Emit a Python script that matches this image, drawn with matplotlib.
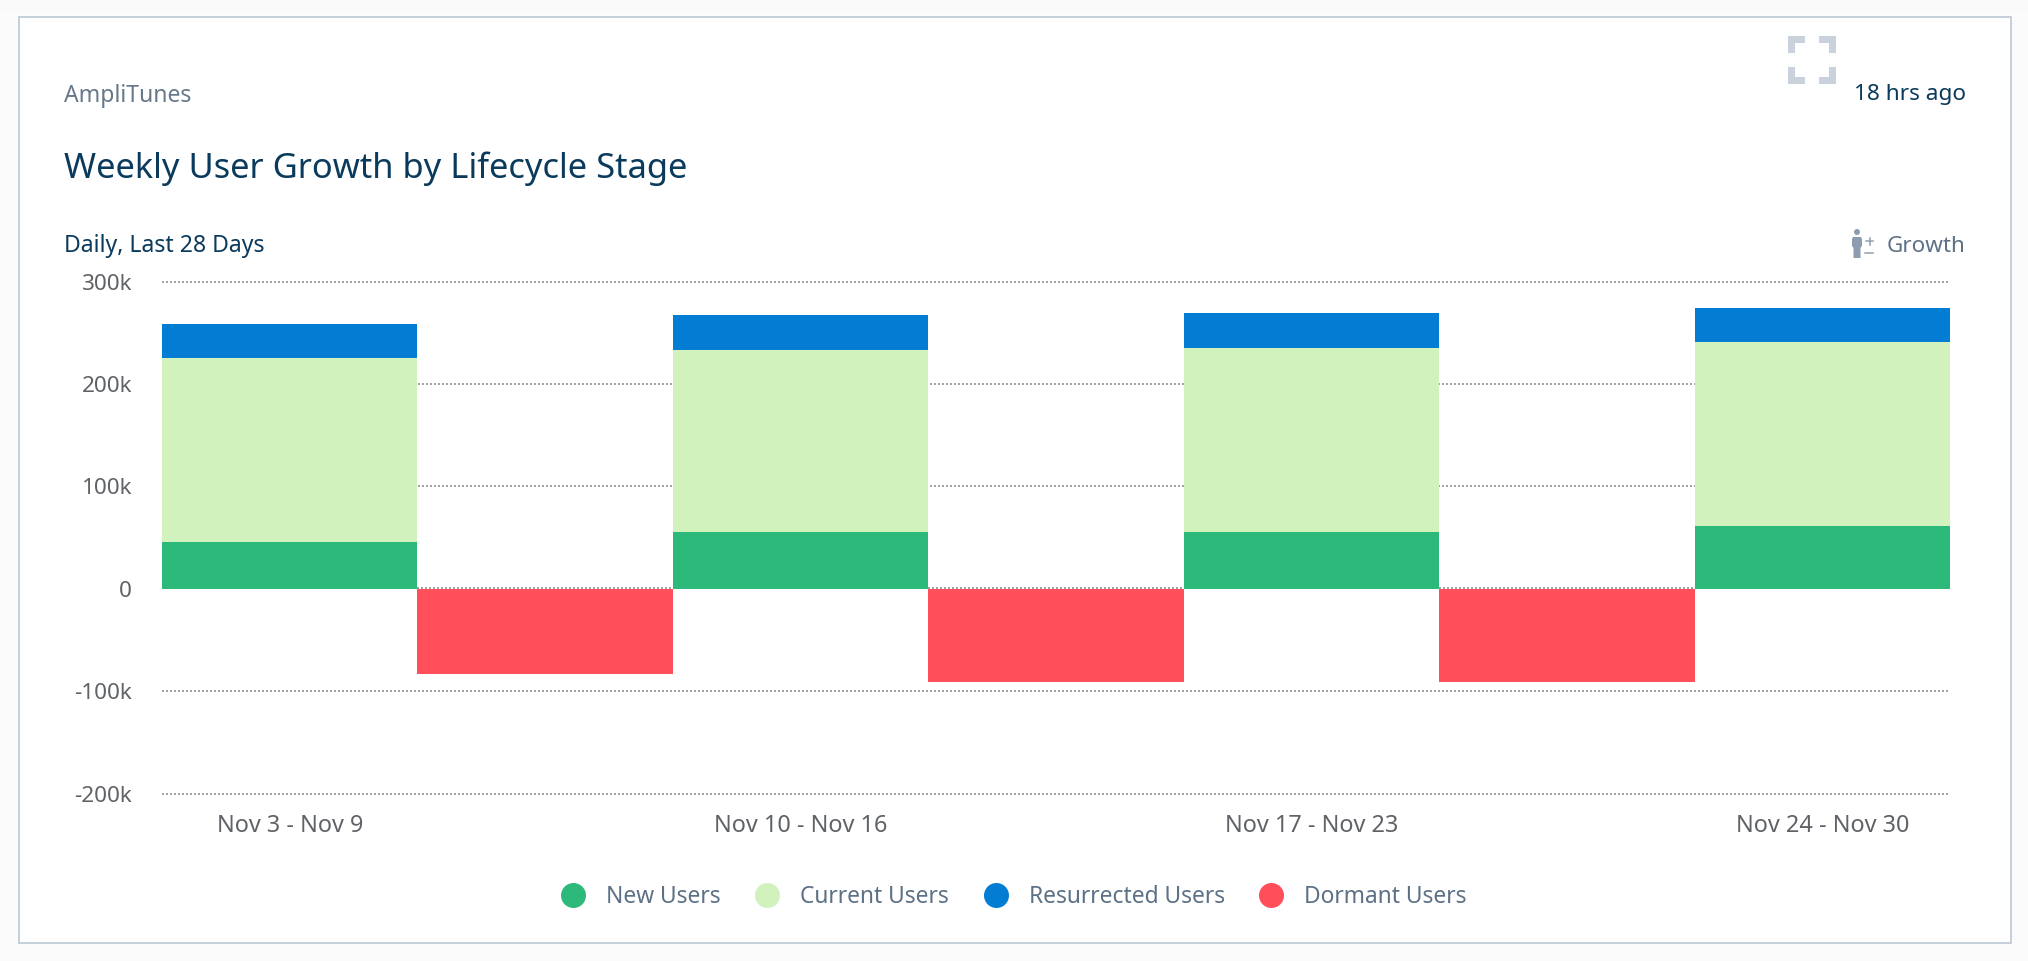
import matplotlib
matplotlib.use("Agg")
import matplotlib.pyplot as plt
import numpy as np
from matplotlib.lines import Line2D
from matplotlib.patches import Rectangle, Polygon, Circle

plt.rcParams["font.family"] = ["Noto Sans", "DejaVu Sans"]

W, H = 2028, 961
DPI = 100

weeks = ["Nov 3 - Nov 9", "Nov 10 - Nov 16", "Nov 17 - Nov 23", "Nov 24 - Nov 30"]
new_users = [45800, 55600, 55600, 61300]
current_users = [179500, 177500, 179500, 179600]
resurrected_users = [33700, 33900, 33900, 33900]
dormant_users = [-83000, -91000, -91000]

y_ticks = [-200000, -100000, 0, 100000, 200000, 300000]
y_labels = ["-200k", "-100k", "0", "100k", "200k", "300k"]

GREEN = "#2cb97a"
LIGHT = "#d1f2bc"
BLUE = "#027dd3"
RED = "#ff4f5b"
NAVY = "#0a3a5c"
SLATE = "#5d7186"
GREY = "#5f6266"
DOTS = "#a3a3a3"


def px(n):
    # pixels to points at this dpi
    return n * 72 / DPI


fig = plt.figure(figsize=(W / DPI, H / DPI), dpi=DPI, facecolor="#fbfbfc")

# page chrome, drawn in pixel coordinates
bg = fig.add_axes([0, 0, 1, 1], zorder=0)
shade = np.linspace(0, 1, 17).reshape(-1, 1)
bg.imshow(shade, cmap="gray", vmin=-12, vmax=1, extent=[0, W, 17, 0], aspect="auto", alpha=0.07)
bg.set_xlim(0, W)
bg.set_ylim(H, 0)
bg.axis("off")
bg.add_patch(Rectangle((18.5, 17), 1992.5, 926, fc="white", ec="#c6d0da", lw=px(2)))

# expand icon
ICON = "#c9d2dc"
x0, y0, x1, y1 = 1788, 36, 1836, 84
arm, th = 17, 7
for sx, sy, cx, cy in [(1, 1, x0, y0), (-1, 1, x1, y0), (1, -1, x0, y1), (-1, -1, x1, y1)]:
    bg.add_patch(Polygon([(cx, cy), (cx + sx * arm, cy), (cx + sx * arm, cy + sy * th),
                          (cx + sx * th, cy + sy * th), (cx + sx * th, cy + sy * arm),
                          (cx, cy + sy * arm)], fc=ICON, ec="none"))

# growth icon
PERSON = "#8d9db0"
bg.add_patch(Circle((1857, 232), 3, fc=PERSON, ec="none"))
bg.add_patch(Polygon([(1853, 237), (1861, 237), (1862, 239), (1862, 246), (1860.5, 248), (1860.5, 258),
                      (1853.5, 258), (1853.5, 248), (1852, 246), (1852, 239)], fc=PERSON, ec="none"))
bg.plot([1866, 1873], [241, 241], color=PERSON, lw=px(1.5))
bg.plot([1869.5, 1869.5], [237.5, 244.5], color=PERSON, lw=px(1.5))
bg.plot([1865, 1873], [253, 253], color=PERSON, lw=px(1.5))

bg.text(64.5, 102, "AmpliTunes", fontsize=px(23), color="#66788a", va="baseline")
bg.text(64.5, 178, "Weekly User Growth by Lifecycle Stage", fontsize=px(34.5), color=NAVY, va="baseline")
bg.text(64.5, 252, "Daily, Last 28 Days", fontsize=px(23), color=NAVY, va="baseline")
bg.text(1966, 100, "18 hrs ago", fontsize=px(22.6), color=NAVY, va="baseline", ha="right")
bg.text(1965, 252, "Growth", fontsize=px(22.4), color=SLATE, va="baseline", ha="right")

# chart, one slot per bar
ax = fig.add_axes([162 / W, 1 - 793.7 / H, 1788 / W, 512 / H], zorder=1)
ax.patch.set_alpha(0)
new_users = np.array(new_users)
current_users = np.array(current_users)
resurrected_users = np.array(resurrected_users)
pos = np.arange(len(weeks)) * 2
pos_dormant = np.arange(len(dormant_users)) * 2 + 1

ax.bar(pos, new_users, width=1, align="edge", color=GREEN, zorder=2)
ax.bar(pos, current_users, bottom=new_users, width=1, align="edge", color=LIGHT, zorder=2)
ax.bar(pos, resurrected_users, bottom=new_users + current_users, width=1, align="edge", color=BLUE, zorder=2)
ax.bar(pos_dormant, dormant_users, width=1, align="edge", color=RED, zorder=2)

ax.set_xlim(0, 7)
ax.set_ylim(-200000, 300000)
ax.set_yticks(y_ticks)
ax.set_yticklabels(y_labels, fontsize=px(22.5), color=GREY)
ax.set_xticks(pos + 0.5)
ax.set_xticklabels(weeks, fontsize=px(23.5), color=GREY)
ax.tick_params(axis="y", length=0, pad=px(30))
ax.tick_params(axis="x", length=0, pad=px(20))
for s in ax.spines.values():
    s.set_visible(False)
for t in y_ticks:
    if t != 0:
        ax.axhline(t, xmax=0.9988, color=DOTS, lw=px(2), ls=(0, (1, 1)), zorder=1, clip_on=False)
# the zero line only shows above the dormant bars
ax.hlines([1000] * len(pos_dormant), pos_dormant, pos_dormant + 1, color=DOTS, lw=px(2),
          ls=(0, (1, 1)), zorder=3)

handles = [Line2D([], [], ls="none", marker="o", ms=px(25), mew=0, color=c) for c in [GREEN, LIGHT, BLUE, RED]]
leg = fig.legend(handles, ["New Users", "Current Users", "Resurrected Users", "Dormant Users"],
                 loc="center", bbox_to_anchor=(1013.5 / W, 1 - 897 / H), ncol=4, frameon=False,
                 fontsize=px(22.8), labelcolor=SLATE, handlelength=1.1, handletextpad=0.9,
                 columnspacing=1.5, borderpad=0, borderaxespad=0)

fig.savefig("out.png", dpi=DPI, facecolor=fig.get_facecolor())
